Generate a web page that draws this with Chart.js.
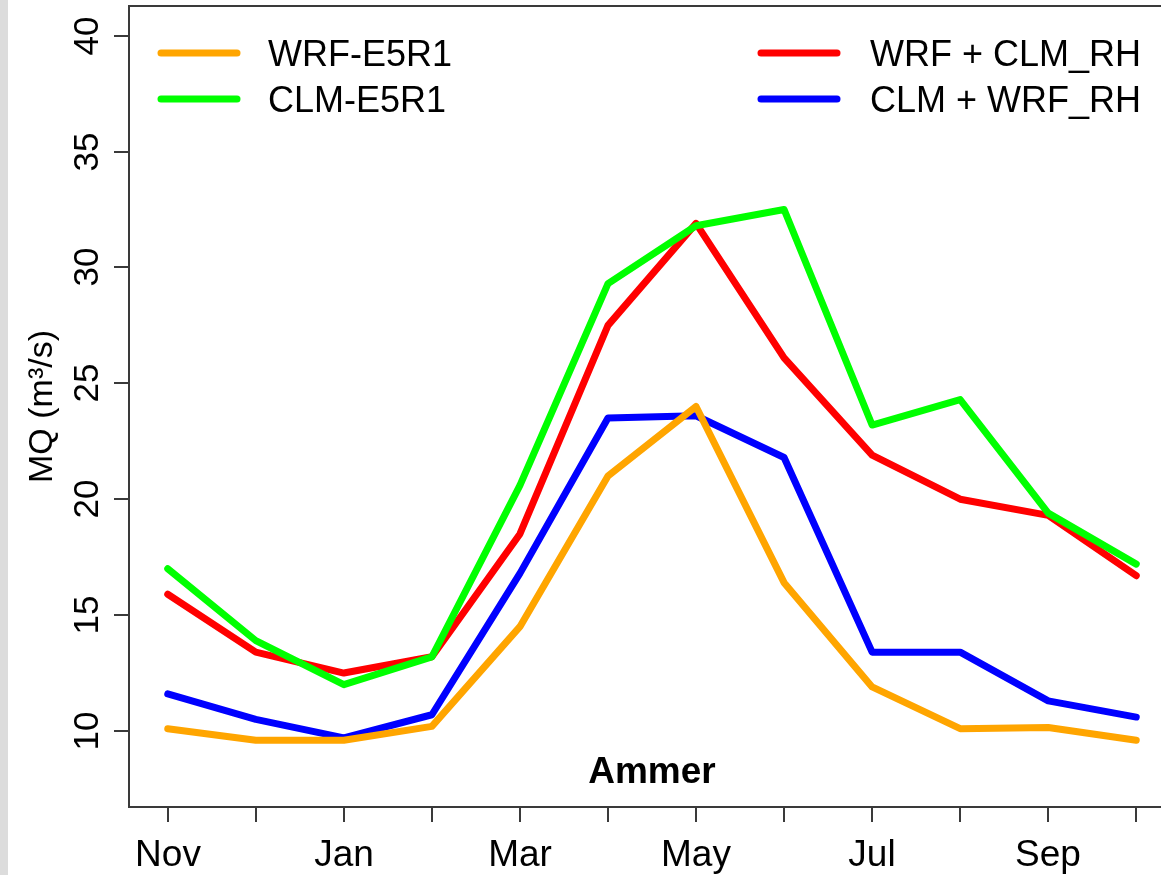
<!DOCTYPE html>
<html>
<head>
<meta charset="utf-8">
<script src="https://cdn.jsdelivr.net/npm/chart.js@4.4.1/dist/chart.umd.min.js"></script>
<style>
  html, body { margin: 0; padding: 0; background: #fff; overflow: hidden; }
  #wrap { position: relative; width: 1200px; height: 875px; }
</style>
</head>
<body>
<div id="wrap"><canvas id="chart" width="1200" height="875"></canvas></div>
<script>
// months Nov..Oct
const months = ['Nov', 'Dec', 'Jan', 'Feb', 'Mar', 'Apr', 'May', 'Jun', 'Jul', 'Aug', 'Sep', 'Oct'];
const monthLabels = ['Nov', '', 'Jan', '', 'Mar', '', 'May', '', 'Jul', '', 'Sep', ''];
const yTicks = [10, 15, 20, 25, 30, 35, 40];

const wrfE5R1  = [10.1, 9.6, 9.6, 10.2, 14.5, 21.0, 24.0, 16.4, 11.9, 10.1, 10.15, 9.6];
const clmE5R1  = [17.0, 13.9, 12.0, 13.2, 20.6, 29.3, 31.8, 32.5, 23.2, 24.3, 19.4, 17.2];
const wrfClmRH = [15.9, 13.4, 12.5, 13.2, 18.5, 27.5, 31.9, 26.1, 21.9, 20.0, 19.3, 16.7];
const clmWrfRH = [11.6, 10.5, 9.7, 10.7, 16.8, 23.5, 23.6, 21.8, 13.4, 13.4, 11.3, 10.6];

const seriesNames = ['WRF-E5R1', 'CLM-E5R1', 'WRF + CLM_RH', 'CLM + WRF_RH'];
const seriesColors = ['#FFA500', '#00FF00', '#FF0000', '#0000FF'];
const seriesValues = [wrfE5R1, clmE5R1, wrfClmRH, clmWrfRH];
const drawOrder = [1, 2, 3, 4];

const FONT = '"Liberation Sans", Arial, Helvetica, sans-serif';
const AXIS = '#3a3a3a';

const rPlot = {
  id: 'rPlot',
  beforeDraw(chart) {
    const c = chart.ctx;
    c.save();
    c.fillStyle = '#dcdcdc';
    c.fillRect(0, 0, 8, chart.height);
    c.restore();
  },
  afterDraw(chart) {
    const c = chart.ctx;
    const a = chart.chartArea;
    const xs = chart.scales.x, ys = chart.scales.y;
    c.save();
    // box
    c.strokeStyle = AXIS;
    c.lineWidth = 2;
    c.strokeRect(a.left, a.top, a.right - a.left, a.bottom - a.top);

    // x ticks + labels
    c.fillStyle = '#000';
    c.font = '37px ' + FONT;
    c.textAlign = 'center';
    c.textBaseline = 'alphabetic';
    months.forEach((m, i) => {
      const px = Math.round(xs.getPixelForValue(i));
      c.beginPath();
      c.moveTo(px, a.bottom);
      c.lineTo(px, a.bottom + 15);
      c.stroke();
      if (monthLabels[i]) c.fillText(monthLabels[i], px, 866);
    });

    // y ticks + rotated labels
    c.font = '35px ' + FONT;
    yTicks.forEach(v => {
      const py = Math.round(ys.getPixelForValue(v));
      c.beginPath();
      c.moveTo(a.left, py);
      c.lineTo(a.left - 15, py);
      c.stroke();
      c.save();
      c.translate(98, py);
      c.rotate(-Math.PI / 2);
      c.textBaseline = 'alphabetic';
      c.fillText(String(v), 0, 0);
      c.restore();
    });

    // y title
    c.save();
    c.translate(52, (a.top + a.bottom) / 2);
    c.rotate(-Math.PI / 2);
    c.font = '34px ' + FONT;
    c.fillText('MQ (m\u00B3/s)', 0, 0);
    c.restore();

    // panel title
    c.font = 'bold 37px ' + FONT;
    c.fillText('Ammer', (a.left + a.right) / 2, 783);

    // legend, two columns filled column-wise
    const cols = [{ lx: 161, tx: 268 }, { lx: 761, tx: 870 }];
    const rows = [53, 99];
    c.font = '36px ' + FONT;
    c.textAlign = 'left';
    c.lineCap = 'round';
    chart.data.datasets.forEach((ds, i) => {
      const col = cols[Math.floor(i / 2)], y = rows[i % 2];
      c.strokeStyle = ds.borderColor;
      c.lineWidth = 7;
      c.beginPath();
      c.moveTo(col.lx, y);
      c.lineTo(col.lx + 76, y);
      c.stroke();
      c.fillText(ds.label, col.tx, y + 13);
    });
    c.restore();
  }
};

new Chart(document.getElementById('chart'), {
  type: 'line',
  data: {
    datasets: seriesNames.map((name, k) => ({
      label: name,
      data: seriesValues[k].map((v, i) => ({ x: i, y: v })),
      borderColor: seriesColors[k],
      borderWidth: 7,
      borderCapStyle: 'round',
      borderJoinStyle: 'round',
      pointRadius: 0,
      tension: 0,
      order: drawOrder[k]
    }))
  },
  options: {
    responsive: false,
    animation: false,
    layout: { padding: { left: 129, right: 25, top: 6, bottom: 68 } },
    plugins: { legend: { display: false }, tooltip: { enabled: false } },
    scales: {
      x: { type: 'linear', min: -0.44, max: 11.44, display: false },
      y: { type: 'linear', min: 6.72, max: 41.28, display: false }
    }
  },
  plugins: [rPlot]
});
</script>
</body>
</html>
